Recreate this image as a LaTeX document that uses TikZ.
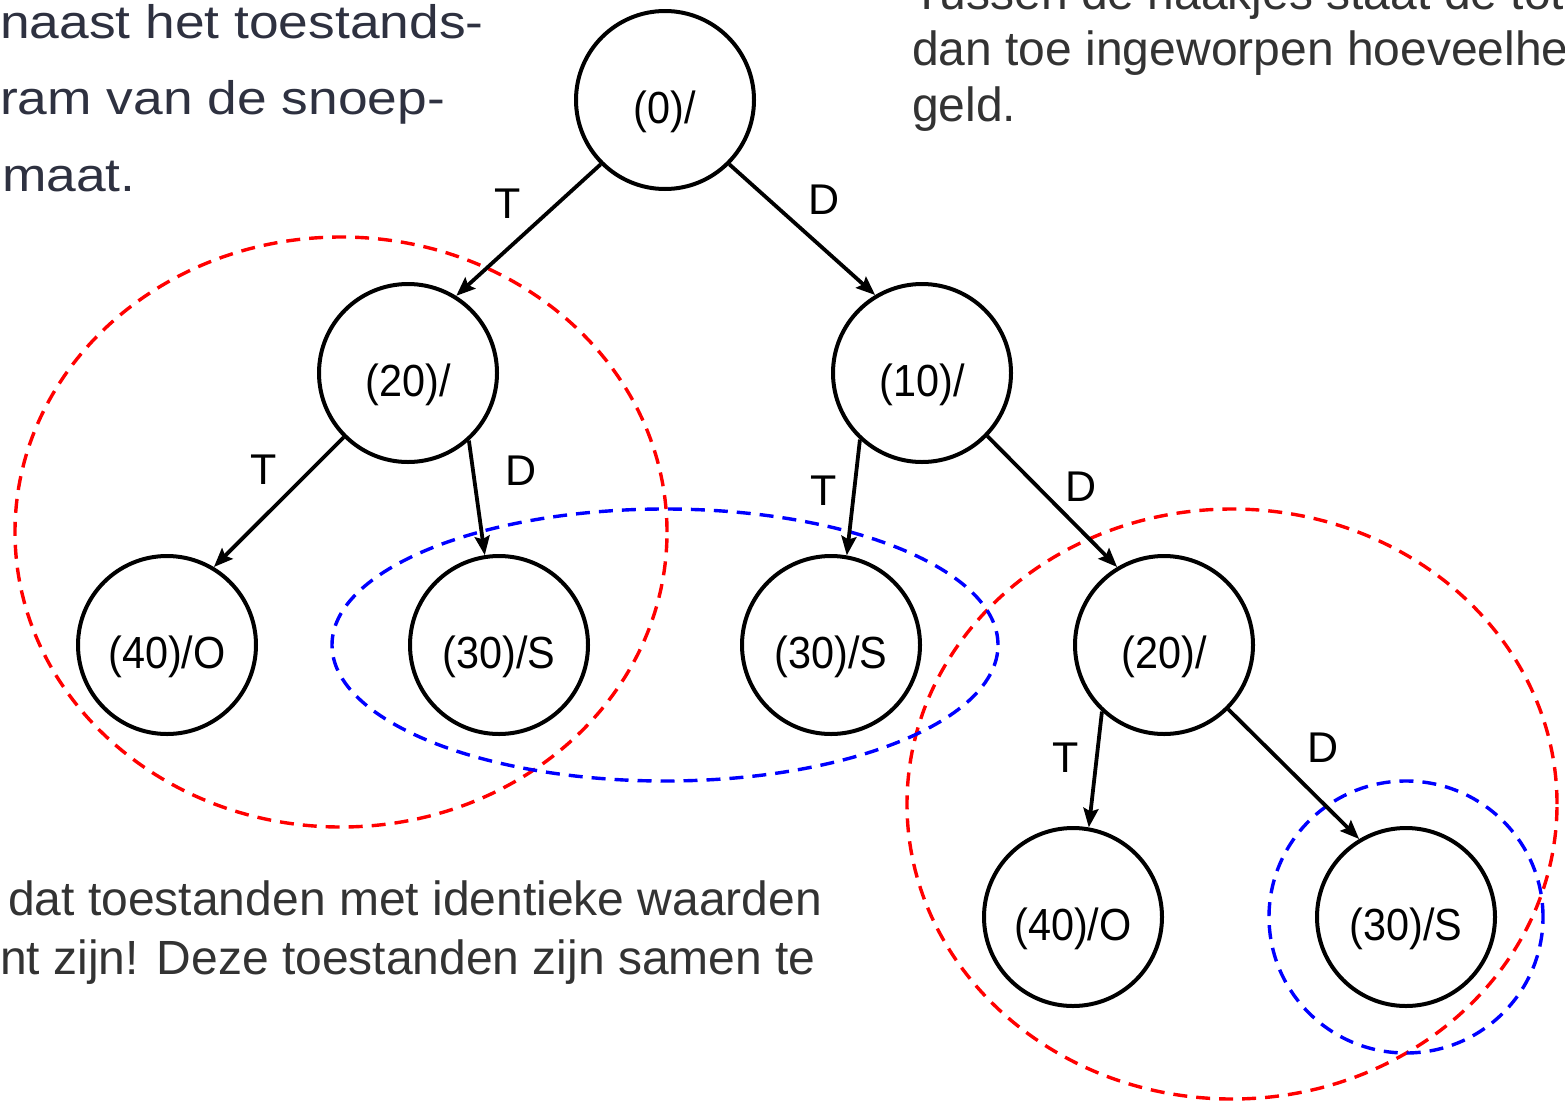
\documentclass[tikz,border=0pt]{standalone}
\usepackage{fontspec}
\setmainfont{Liberation Sans}
\newfontfamily\widesans[FakeStretch=1.135]{Liberation Sans}
\newfontfamily\narrowsans[FakeStretch=0.92]{Liberation Sans}
\usetikzlibrary{arrows.meta}
\definecolor{slate}{HTML}{2E3140}
\definecolor{prose}{HTML}{333333}
\tikzset{
  state/.style={circle, draw, line width=4pt, minimum size=178pt, inner sep=0pt,
    text height=46pt, text depth=0pt,
    font=\narrowsans\fontsize{45}{50}\selectfont},
  trans/.style={line width=3.8pt, -{Stealth[length=19pt, width=15pt, inset=3pt]}},
  lbl/.style={inner sep=0pt, font=\fontsize{43}{48}\selectfont},
  groupred/.style={draw=red, line width=3.4pt, dash pattern=on 14pt off 9pt},
  groupblue/.style={draw=blue, line width=3.4pt, dash pattern=on 14pt off 9pt},
  notes/.style={inner sep=0pt, anchor=base west, text=prose, font=\fontsize{48}{54}\selectfont},
  leftnotes/.style={inner sep=0pt, anchor=base west, text=slate, font=\widesans\fontsize{47}{52}\selectfont}
}
\begin{document}
\begin{tikzpicture}[x=1pt, y=-1pt]
\useasboundingbox (0,0) rectangle (1565,1103);
\clip (0,0) rectangle (1565,1103);
\fill[white] (0,0) rectangle (1565,1103);

% explanatory text around the tree
\node[leftnotes] (tl1) at (0,38) {naast het toestands-};
\node[leftnotes] (tl2) at (0,114) {ram van de snoep-};
\node[leftnotes] (tl3) at (2,191) {maat.};

\node[notes] (tr1) at (912,9) {Tussen de haakjes staat de tot};
\node[notes] (tr2) at (912,65) {dan toe ingeworpen hoeveelhe};
\node[notes] (tr3) at (912,121) {geld.};

\node[notes] (bt1) at (8,915) {dat toestanden met identieke waarden};
\node[notes] (bt2) at (0,974) {nt zijn! Deze toestanden zijn samen te};

% groupings of equivalent states
\draw[groupred] (341,532) ellipse [x radius=326pt, y radius=295pt];
\draw[groupred] (1232,804) ellipse [x radius=325pt, y radius=295pt];
\draw[groupblue] (665,645) ellipse [x radius=333pt, y radius=136pt];
\draw[groupblue] (1406,917) ellipse [x radius=137pt, y radius=136pt];

% states
\node[state] (s0) at (665,100) {(0)/};
\node[state] (s20) at (408,373) {(20)/};
\node[state] (s10) at (922,373) {(10)/};
\node[state] (s40a) at (167,645) {(40)/O};
\node[state] (s30a) at (499,645) {(30)/S};
\node[state] (s30b) at (831,645) {(30)/S};
\node[state] (s20b) at (1164,645) {(20)/};
\node[state] (s40b) at (1073,917) {(40)/O};
\node[state] (s30c) at (1406,917) {(30)/S};

% transitions
\draw[trans] (s0.225) -- (s20.58);
\draw[trans] (s0.-45) -- (s10.121);
\draw[trans] (s20.225) -- (s40a.59);
\draw[trans] (s20.-48) -- (s30a.99);
\draw[trans] (s10.227) -- (s30b.80);
\draw[trans] (s10.-44) -- (s20b.121);
\draw[trans] (s20b.227) -- (s40b.80);
\draw[trans] (s20b.-45) -- (s30c.121);

% transition labels
\node[lbl] (l1) at (508,204) {T};
\node[lbl] (l2) at (824,200) {D};
\node[lbl] (l3) at (264,470) {T};
\node[lbl] (l4) at (521,471) {D};
\node[lbl] (l5) at (824,491) {T};
\node[lbl] (l6) at (1081,487) {D};
\node[lbl] (l7) at (1066,758) {T};
\node[lbl] (l8) at (1323,748) {D};
\end{tikzpicture}
\end{document}
